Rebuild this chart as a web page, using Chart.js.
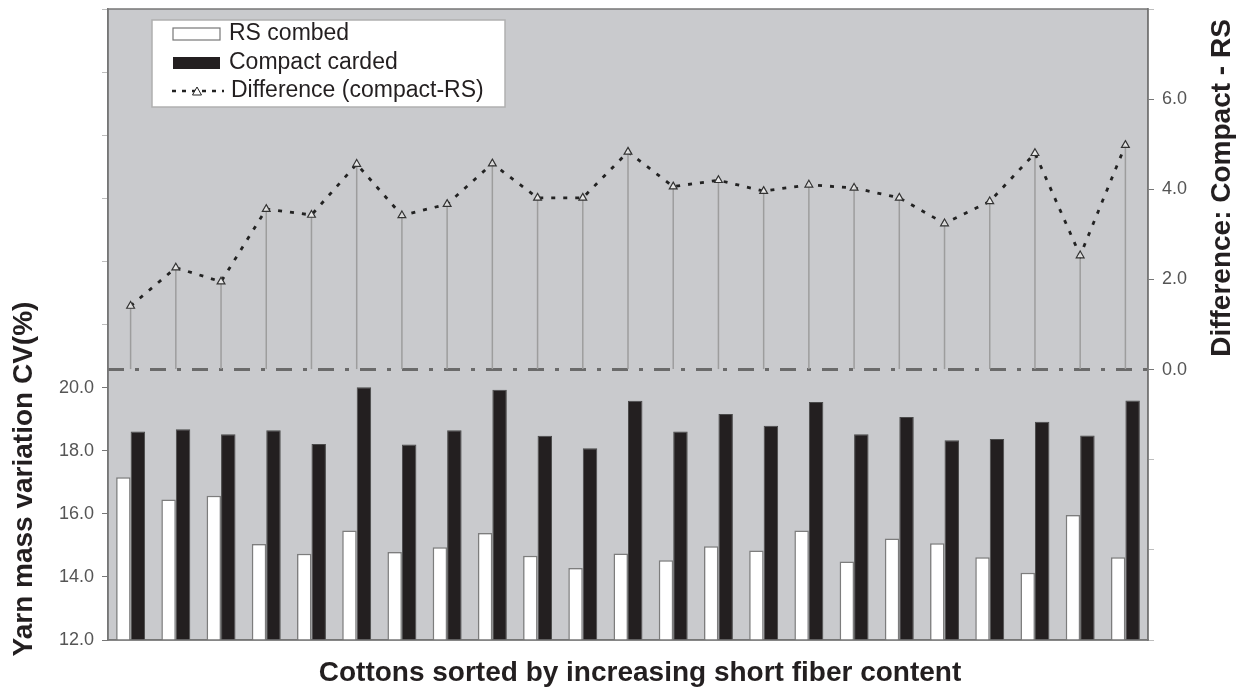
<!DOCTYPE html>
<html>
<head>
<meta charset="utf-8">
<script src="https://cdn.jsdelivr.net/npm/chart.js@4.4.1/dist/chart.umd.min.js"></script>
<style>
  html, body { margin:0; padding:0; background:#fff; }
  #wrap { width:1240px; height:689px; position:relative; }
</style>
</head>
<body>
<div id="wrap"><canvas id="chart"></canvas></div>
<script>
// cottons, sorted by increasing short fiber content (no tick labels in the figure)
const cottons = ['1','2','3','4','5','6','7','8','9','10','11','12','13','14','15','16','17','18','19','20','21','22','23'];

// yarn mass variation CV(%) - left axis
const rsCombed      = [17.16, 16.45, 16.57, 15.04, 14.73, 15.47, 14.79, 14.94, 15.39, 14.67, 14.28, 14.74, 14.53, 14.97, 14.84, 15.47, 14.49, 15.22, 15.07, 14.62, 14.13, 15.96, 14.62];
const compactCarded = [18.61, 18.68, 18.52, 18.65, 18.21, 20.01, 18.20, 18.65, 19.93, 18.47, 18.08, 19.58, 18.61, 19.16, 18.79, 19.54, 18.52, 19.07, 18.33, 18.37, 18.92, 18.48, 19.59];

// difference compact - RS, right axis
const difference    = [1.41, 2.26, 1.95, 3.56, 3.43, 4.56, 3.42, 3.67, 4.57, 3.81, 3.81, 4.83, 4.06, 4.20, 3.96, 4.10, 4.03, 3.81, 3.24, 3.73, 4.80, 2.53, 4.98];

// axis ticks
const leftTicks  = [12, 14, 16, 18, 20];
const rightTicks = [0, 2, 4, 6];

const FONT = "'Liberation Sans', Arial, sans-serif";
const INK = '#231f20';

// background, box, zero line, titles and legend
const decor = {
  id: 'decor',
  beforeDraw(chart){
    const {ctx, chartArea:a} = chart;
    ctx.save();
    ctx.fillStyle = '#c9cacd';
    ctx.fillRect(a.left, a.top, a.right - a.left, a.bottom - a.top);
    ctx.restore();
  },
  beforeDatasetsDraw(chart){
    const {ctx, chartArea:a, scales} = chart;
    const y0 = scales.y2.getPixelForValue(0);
    ctx.save();
    ctx.strokeStyle = '#6a6a6a';
    ctx.lineWidth = 3;
    ctx.setLineDash([16, 11, 4, 11]);
    ctx.beginPath(); ctx.moveTo(a.left, y0); ctx.lineTo(a.right, y0); ctx.stroke();
    ctx.restore();
  },
  afterDraw(chart){
    const {ctx, chartArea:a} = chart;
    ctx.save();
    // frame
    ctx.strokeStyle = '#777';
    ctx.lineWidth = 1.5;
    ctx.strokeRect(a.left, a.top, a.right - a.left, a.bottom - a.top);

    // axis titles
    ctx.fillStyle = INK;
    ctx.font = 'bold 28px ' + FONT;
    ctx.textAlign = 'center';
    ctx.textBaseline = 'middle';
    ctx.fillText('Cottons sorted by increasing short fiber content', 640, 673);
    ctx.save();
    ctx.translate(24, 479); ctx.rotate(-Math.PI/2);
    ctx.fillText('Yarn mass variation CV(%)', 0, 0);
    ctx.restore();
    ctx.save();
    ctx.translate(1222, 188); ctx.rotate(-Math.PI/2);
    ctx.fillText('Difference: Compact - RS', 0, 0);
    ctx.restore();

    // legend
    const lx = a.left + 44, ly = a.top + 11;
    ctx.fillStyle = '#fff';
    ctx.fillRect(lx, ly, 353, 87);
    ctx.strokeStyle = '#b0b0b0';
    ctx.lineWidth = 1.5;
    ctx.strokeRect(lx, ly, 353, 87);

    ctx.lineWidth = 1.2;
    ctx.strokeStyle = '#777';
    ctx.fillStyle = '#fff';
    ctx.fillRect(lx + 21, ly + 8, 47, 12);
    ctx.strokeRect(lx + 21, ly + 8, 47, 12);
    ctx.fillStyle = INK;
    ctx.fillRect(lx + 21, ly + 37, 47, 12);

    ctx.strokeStyle = '#222';
    ctx.lineWidth = 2.5;
    ctx.setLineDash([4, 6]);
    ctx.beginPath(); ctx.moveTo(lx + 20, ly + 71); ctx.lineTo(lx + 72, ly + 71); ctx.stroke();
    ctx.setLineDash([]);
    ctx.fillStyle = '#fff';
    ctx.lineWidth = 1;
    ctx.beginPath();
    ctx.moveTo(lx + 45, ly + 67); ctx.lineTo(lx + 49.5, ly + 75); ctx.lineTo(lx + 40.5, ly + 75); ctx.closePath();
    ctx.fill(); ctx.stroke();

    ctx.fillStyle = INK;
    ctx.font = '23px ' + FONT;
    ctx.textAlign = 'left';
    ctx.fillText('RS combed', lx + 77, ly + 14);
    ctx.fillText('Compact carded', lx + 77, ly + 43);
    ctx.fillText('Difference (compact-RS)', lx + 79, ly + 71);
    ctx.restore();
  }
};

// fixed axis box sizes, no extra label padding at the ends
function fitY(width){
  return s => { s.width = width; s.paddingTop = 0; s.paddingBottom = 0; };
}

new Chart(document.getElementById('chart'), {
  data: {
    labels: cottons,
    datasets: [
      { type:'line', label:'Difference (compact-RS)', data: difference, yAxisID:'y2',
        borderColor:'#222', borderWidth:2.8, borderDash:[4, 8], fill:false, tension:0,
        pointStyle:'triangle', pointRadius:4.5, pointBorderColor:'#333', pointBorderWidth:1.2,
        pointBackgroundColor:'rgba(235,235,235,0.9)' },
      { type:'bar', label:'stems', data: difference, yAxisID:'y2', grouped:false,
        backgroundColor:'#9d9d9d', borderWidth:0, maxBarThickness:1.5 },
      { type:'bar', label:'RS combed', data: rsCombed, yAxisID:'y',
        backgroundColor:'#ffffff', borderColor:'#7d7d7d', borderWidth:1.5,
        categoryPercentage:0.64, barPercentage:1.0 },
      { type:'bar', label:'Compact carded', data: compactCarded, yAxisID:'y',
        backgroundColor:INK, borderColor:'#4a4a4a', borderWidth:1,
        categoryPercentage:0.64, barPercentage:1.0 }
    ]
  },
  options: {
    responsive:true, maintainAspectRatio:false, animation:false,
    layout:{ padding:{ top:9, left:0, right:0, bottom:0 } },
    plugins:{ legend:{ display:false }, tooltip:{ enabled:false } },
    scales:{
      x:{ type:'category', offset:true,
          grid:{ display:false }, ticks:{ display:false },
          border:{ color:'#777', width:1.5 },
          afterFit: s => { s.height = 49; s.paddingLeft = 0; s.paddingRight = 0; } },
      y:{ position:'left', min:12, max:32,
          afterBuildTicks: s => { s.ticks = [12,14,16,18,20,22,24,26,28,30,32].map(v => ({value:v})); },
          ticks:{ autoSkip:false, padding:8, color:'#555', font:{ family:FONT, size:18 },
                  callback: v => leftTicks.includes(v) ? v.toFixed(1) : '' },
          grid:{ drawOnChartArea:false, tickLength:6,
                 tickColor: c => leftTicks.includes(c.tick.value) ? '#777' : '#bdbdbd' },
          border:{ color:'#777', width:1.5 },
          afterFit: fitY(108) },
      y2:{ position:'right', min:-6, max:8,
          afterBuildTicks: s => { s.ticks = [-6,-4,-2,0,2,4,6,8].map(v => ({value:v})); },
          ticks:{ autoSkip:false, padding:8, color:'#555', font:{ family:FONT, size:18 },
                  callback: v => rightTicks.includes(v) ? v.toFixed(1) : '' },
          grid:{ drawOnChartArea:false, tickLength:6,
                 tickColor: c => rightTicks.includes(c.tick.value) ? '#777' : '#bdbdbd' },
          border:{ color:'#777', width:1.5 },
          afterFit: fitY(92) }
    }
  },
  plugins:[decor]
});
</script>
</body>
</html>
